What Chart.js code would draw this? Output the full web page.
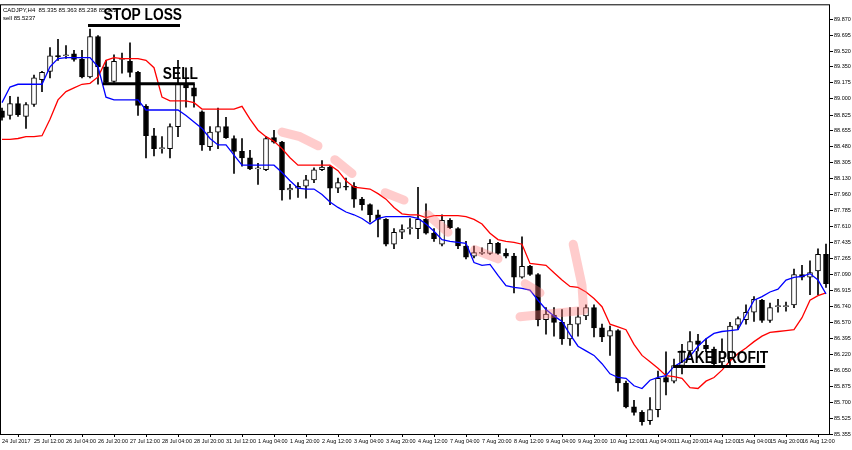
<!DOCTYPE html>
<html><head><meta charset="utf-8">
<script src="https://cdn.jsdelivr.net/npm/chart.js@4"></script>
<style>html,body{margin:0;padding:0;background:#fff}#w{width:852px;height:450px;position:relative}</style>
</head><body><div id="w"><canvas id="c"></canvas></div>
<script>
const tickLabels = ["24 Jul 2017","25 Jul 12:00","26 Jul 04:00","26 Jul 20:00","27 Jul 12:00","28 Jul 04:00","28 Jul 20:00","31 Jul 12:00","1 Aug 04:00","1 Aug 20:00","2 Aug 12:00","3 Aug 04:00","3 Aug 20:00","4 Aug 12:00","7 Aug 04:00","7 Aug 20:00","8 Aug 12:00","9 Aug 04:00","9 Aug 20:00","10 Aug 12:00","11 Aug 04:00","11 Aug 20:00","14 Aug 12:00","15 Aug 04:00","15 Aug 20:00","16 Aug 12:00"];
const priceTicks = [89.870,89.695,89.520,89.350,89.175,89.000,88.825,88.655,88.480,88.305,88.130,87.960,87.785,87.610,87.435,87.265,87.090,86.915,86.740,86.570,86.395,86.220,86.050,85.875,85.700,85.525,85.355];
const opens  = [88.87,88.82,88.95,88.81,88.94,89.21,89.30,89.47,89.47,89.49,89.43,89.24,89.68,89.35,89.19,89.43,89.41,89.29,88.92,88.60,88.46,88.46,88.70,89.16,89.12,88.86,88.48,88.64,88.70,88.57,88.43,88.36,88.24,88.23,88.58,88.53,88.01,88.03,88.05,88.12,88.23,88.26,88.03,88.05,88.05,87.91,87.85,87.74,87.69,87.42,87.55,87.59,87.59,87.69,87.54,87.42,87.68,87.59,87.40,87.29,87.32,87.32,87.43,87.32,87.29,87.06,87.18,87.09,86.60,86.65,86.57,86.39,86.55,86.64,86.73,86.51,86.42,86.48,85.91,85.65,85.59,85.50,85.62,85.97,85.93,86.10,86.26,86.37,86.32,86.28,86.14,86.17,86.54,86.60,86.68,86.81,86.59,86.74,86.74,86.76,87.09,87.06,87.13,87.31];
const highs  = [88.90,89.03,89.02,88.96,89.26,89.30,89.56,89.65,89.58,89.53,89.53,89.76,89.69,89.42,89.48,89.50,89.61,89.30,88.94,88.68,88.59,88.73,89.42,89.34,89.16,88.87,88.70,88.90,88.80,88.60,88.57,88.44,88.30,88.59,88.66,88.54,88.07,88.09,88.17,88.25,88.33,88.27,88.14,88.14,88.09,87.93,87.86,87.79,87.70,87.59,87.63,87.70,88.04,87.86,87.59,87.74,87.70,87.60,87.45,87.40,87.38,87.47,87.44,87.37,87.32,87.50,87.19,87.10,86.73,86.73,86.71,86.73,86.73,86.76,86.76,86.55,86.53,86.49,85.93,85.72,85.61,85.75,86.04,86.25,86.17,86.33,86.47,86.44,86.39,86.30,86.39,86.57,86.63,86.76,86.85,86.82,86.78,86.82,86.79,87.15,87.19,87.24,87.37,87.42];
const lows   = [88.77,88.78,88.81,88.68,88.92,89.08,89.23,89.42,89.44,89.41,89.23,89.23,89.16,89.16,89.18,89.28,89.24,88.82,88.36,88.38,88.41,88.36,88.59,88.91,88.91,88.44,88.44,88.46,88.57,88.19,88.27,88.23,88.07,88.22,88.52,87.90,87.91,87.93,87.92,88.09,88.22,87.85,87.98,88.01,87.82,87.79,87.66,87.50,87.40,87.37,87.48,87.53,87.48,87.53,87.45,87.40,87.59,87.37,87.26,87.27,87.31,87.31,87.31,87.27,86.89,87.05,87.08,86.53,86.44,86.42,86.33,86.32,86.42,86.60,86.41,86.36,86.21,85.82,85.64,85.56,85.45,85.46,85.54,85.78,85.91,86.01,86.21,86.26,86.25,86.10,86.10,86.10,86.49,86.55,86.58,86.57,86.57,86.68,86.69,86.73,87.03,86.87,86.87,86.95];
const closes = [88.80,88.95,88.83,88.94,89.23,89.29,89.47,89.46,89.48,89.43,89.24,89.68,89.35,89.18,89.41,89.44,89.29,88.93,88.60,88.46,88.47,88.70,89.16,89.12,89.03,88.50,88.64,88.70,88.58,88.43,88.36,88.24,88.245,88.57,88.53,88.01,88.03,88.05,88.12,88.23,88.26,88.03,88.09,88.04,87.91,87.85,87.74,87.69,87.42,87.55,87.58,87.59,87.69,87.54,87.48,87.68,87.60,87.40,87.28,87.33,87.32,87.43,87.32,87.29,87.06,87.18,87.09,86.60,86.66,86.57,86.39,86.55,86.63,86.73,86.51,86.41,86.48,85.91,85.65,85.59,85.49,85.62,85.96,85.92,86.10,86.26,86.36,86.33,86.28,86.12,86.25,86.53,86.61,86.68,86.82,86.59,86.73,86.74,86.75,87.09,87.06,87.11,87.31,86.99];
const blueLine = [88.96,89.13,89.16,89.16,89.16,89.16,89.35,89.44,89.45,89.45,89.45,89.45,89.35,89.02,88.99,88.99,88.99,88.99,88.88,88.88,88.88,88.88,88.88,88.82,88.75,88.68,88.57,88.50,88.50,88.39,88.28,88.28,88.28,88.28,88.28,88.20,88.11,88.03,88.02,88.02,87.96,87.88,87.82,87.77,87.74,87.70,87.64,87.70,87.72,87.72,87.72,87.72,87.70,87.64,87.56,87.47,87.45,87.44,87.43,87.22,87.19,87.20,87.08,86.97,86.95,86.94,86.92,86.81,86.71,86.64,86.58,86.44,86.31,86.26,86.21,86.12,86.01,85.97,85.96,85.88,85.85,85.94,85.97,85.99,86.09,86.14,86.20,86.31,86.39,86.45,86.47,86.48,86.49,86.65,86.81,86.85,86.90,86.93,87.03,87.06,87.07,87.10,87.03,86.88];
const redLine = [88.56,88.56,88.57,88.59,88.59,88.60,88.78,88.99,89.08,89.12,89.16,89.17,89.24,89.42,89.45,89.44,89.44,89.44,89.42,89.34,89.02,88.98,88.98,88.98,88.96,88.89,88.89,88.89,88.89,88.89,88.92,88.78,88.66,88.59,88.54,88.46,88.36,88.28,88.28,88.28,88.28,88.28,88.22,88.11,88.04,88.03,88.02,87.97,87.91,87.82,87.75,87.74,87.74,87.71,87.73,87.73,87.73,87.73,87.72,87.69,87.64,87.54,87.47,87.45,87.44,87.42,87.21,87.20,87.19,87.11,87.03,86.96,86.95,86.90,86.83,86.74,86.55,86.52,86.49,86.33,86.21,86.14,86.07,85.99,85.98,85.96,85.86,85.85,85.93,85.97,86.05,86.15,86.23,86.29,86.36,86.42,86.46,86.47,86.48,86.49,86.62,86.81,86.86,86.89];
const labelsTxt = [["STOP LOSS",17.6,89.86],["SELL",22.3,89.22],["TAKE PROFIT",90.1,86.13]];
const levelLines = [[10.75,22.25,89.80],[12.6,24.1,89.165],[83.9,95.4,86.09]];
const pinkStrokes = [
 [[35,88.64],[37.25,88.59],[39.5,88.49]],
 [[41.6,88.34],[43.75,88.19]],
 [[47.9,87.98],[50.25,87.90]],
 [[53.25,87.74],[55.75,87.55]],
 [[59.1,87.36],[62,87.26]],
 [[65.4,86.99],[67.25,86.89]],
 [[71.4,87.42],[72.5,86.97],[72.7,86.70],[64.75,86.63]]
];

const idx = opens.map((_,i)=>i);
const bodies = idx.map(i=>({x:i,y:[opens[i],closes[i]]}));
const wicks = idx.map(i=>({x:i,y:[lows[i],highs[i]]}));
const bodyColors = idx.map(i=>closes[i]>=opens[i]?'#ffffff':'#000000');

const overlay = {
 id:'overlay',
 afterDraw(ch){
  const c=ch.ctx, xs=ch.scales.x, ys=ch.scales.y, a=ch.chartArea;
  c.save();
  c.strokeStyle='#000'; c.lineWidth=1;
  c.strokeRect(a.left+0.5,a.top+0.5,a.right-a.left-1,a.bottom-a.top);
  c.lineCap='round'; c.lineJoin='round';
  c.strokeStyle='rgba(255,120,120,0.38)'; c.lineWidth=9;
  pinkStrokes.forEach(s=>{c.beginPath();s.forEach((p,k)=>{const X=xs.getPixelForValue(p[0]),Y=ys.getPixelForValue(p[1]);k?c.lineTo(X,Y):c.moveTo(X,Y);});c.stroke();});
  c.lineCap='butt'; c.strokeStyle='#000'; c.lineWidth=3;
  levelLines.forEach(l=>{const Y=ys.getPixelForValue(l[2]);c.beginPath();c.moveTo(xs.getPixelForValue(l[0]),Y);c.lineTo(xs.getPixelForValue(l[1]),Y);c.stroke();});
  c.fillStyle='#000'; c.font='bold 16px "Liberation Sans", Arial'; c.textAlign='center'; c.textBaseline='alphabetic';
  labelsTxt.forEach(t=>{const X=xs.getPixelForValue(t[1]),Y=ys.getPixelForValue(t[2]);c.save();c.translate(X,Y);c.scale(0.86,1);c.fillText(t[0],0,0);c.restore();});
  c.font='6px "Liberation Sans", Arial'; c.textAlign='left';
  c.fillText('CADJPY,H4  85.335 85.363 85.238 85.322',a.left+3,a.top+8);
  c.fillText('sell 85.5237',a.left+3,a.top+16);
  c.restore();
 }
};

new Chart(document.getElementById('c'),{
 type:'bar',
 data:{datasets:[
  {type:'line',data:idx.map(i=>({x:i,y:blueLine[i]})),borderColor:'#0000ff',borderWidth:1.3,pointRadius:0,tension:0,order:0},
  {type:'line',data:idx.map(i=>({x:i,y:redLine[i]})),borderColor:'#ff0000',borderWidth:1.3,pointRadius:0,tension:0,order:0},
  {data:bodies,backgroundColor:bodyColors,borderColor:'#000',borderWidth:1,borderSkipped:false,barThickness:5,grouped:false,minBarLength:1,order:1},
  {data:wicks,backgroundColor:'#000',borderWidth:0,barThickness:1,grouped:false,order:2}
 ]},
 options:{
  responsive:true,maintainAspectRatio:false,animation:false,
  layout:{padding:{top:1,left:0,right:0,bottom:0}},
  plugins:{legend:{display:false},tooltip:{enabled:false}},
  scales:{
   x:{type:'linear',min:-0.25,max:103.5,offset:false,
      grid:{display:true,drawOnChartArea:false,tickLength:3,color:'#000'},border:{display:false},
      afterBuildTicks(s){s.ticks=tickLabels.map((_,k)=>({value:k*4}));},
      afterFit(s){s.height=16;},
      ticks:{autoSkip:false,maxRotation:0,align:'start',padding:1,font:{size:5.5,family:'"Liberation Sans", Arial'},color:'#000',callback:(v)=>tickLabels[Math.round(v/4)]||''}},
   y:{position:'right',min:85.355,max:90.03,
      grid:{display:true,drawOnChartArea:false,tickLength:3,color:'#000'},border:{display:false},
      afterBuildTicks(s){s.ticks=priceTicks.map(v=>({value:v}));},
      afterFit(s){s.width=22;},
      ticks:{autoSkip:false,padding:1,font:{size:5.5,family:'"Liberation Sans", Arial'},color:'#000',callback:v=>v.toFixed(3)}}
  }
 },
 plugins:[overlay]
});
</script></body></html>
